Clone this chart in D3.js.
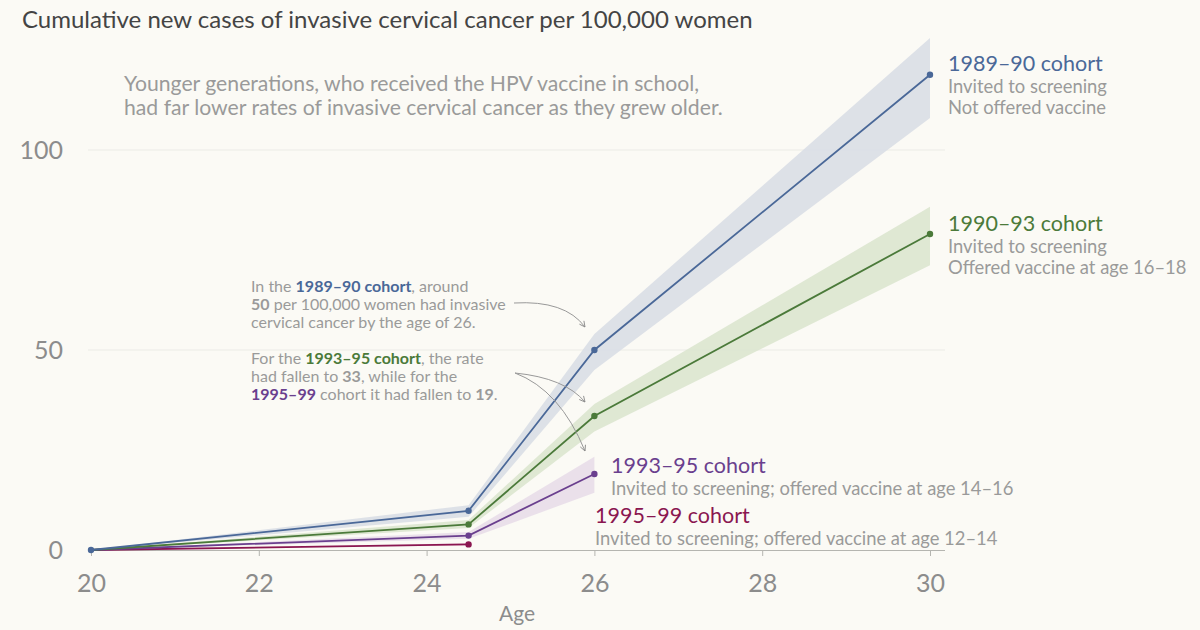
<!DOCTYPE html>
<html><head><meta charset="utf-8">
<script src="https://cdn.jsdelivr.net/npm/d3@7"></script>
<style>
html,body{margin:0;padding:0;background:#fbfaf5;}
svg{display:block;font-family:Lato,"Open Sans",sans-serif;}
</style></head>
<body><svg id="c" width="1200" height="630"></svg>
<script>
const ages = [20, 24.5, 26, 30];
const xTicks = [20, 22, 24, 26, 28, 30];
const yTicks = [0, 50, 100];
const cohorts = ["1989–90 cohort", "1990–93 cohort", "1993–95 cohort", "1995–99 cohort"];
const colors = ["#4a6898", "#4b7a3a", "#6a3f8e", "#8a1650"];
const bandColors = ["#d9dee6", "#dbe5cf", "#e8dde9", "#efdbe3"];
const val8990 = [0, 9.8, 50, 118.8];
const lo8990 = [0, 8.3, 45, 108];
const hi8990 = [0, 11.2, 54, 128];
const val9093 = [0, 6.4, 33.5, 79];
const lo9093 = [0, 5.5, 29.6, 71.2];
const hi9093 = [0, 7.5, 36.5, 85.8];
const val9395 = [0, 3.6, 19];
const lo9395 = [0, 2.8, 14.3];
const hi9395 = [0, 4.5, 23.3];
const val9599 = [0, 1.4];
const lo9599 = [0, 1.1];
const hi9599 = [0, 1.7];
const labelSub = [
  ["Invited to screening", "Not offered vaccine"],
  ["Invited to screening", "Offered vaccine at age 16–18"],
  ["Invited to screening; offered vaccine at age 14–16"],
  ["Invited to screening; offered vaccine at age 12–14"]
];

const series = [
  {v: val8990, lo: lo8990, hi: hi8990},
  {v: val9093, lo: lo9093, hi: hi9093},
  {v: val9395, lo: lo9395, hi: hi9395},
  {v: val9599, lo: lo9599, hi: hi9599}
];

const svg = d3.select("#c");
const x = d3.scaleLinear().domain([20, 30]).range([91, 930]);
const y = d3.scaleLinear().domain([0, 100]).range([550, 150]);

// title
svg.append("text").attr("x", 22).attr("y", 28).attr("fill", "#444")
  .style("font-size", "24px").text("Cumulative new cases of invasive cervical cancer per 100,000 women");
const sub = svg.append("text").attr("fill", "#9a9a9a").style("font-size", "21.2px");
sub.append("tspan").attr("x", 124).attr("y", 91).text("Younger generations, who received the HPV vaccine in school,");
sub.append("tspan").attr("x", 124).attr("y", 115).text("had far lower rates of invasive cervical cancer as they grew older.");

// grid
svg.append("g").selectAll("line").data(yTicks.filter(d => d > 0)).join("line")
  .attr("x1", 88).attr("x2", 945).attr("y1", d => y(d)).attr("y2", d => y(d))
  .attr("stroke", "#ebebe6").attr("stroke-width", 1);

// x axis
const xAxis = d3.axisBottom(x).tickValues(xTicks).tickSize(6).tickPadding(0).tickFormat(d3.format("d"));
const gx = svg.append("g").attr("transform", "translate(0,550)").call(xAxis);
gx.select(".domain").attr("d", "M88,0.5H945").attr("stroke", "#b5b5b0");
gx.selectAll(".tick line").attr("stroke", "#b5b5b0");
gx.selectAll(".tick text").attr("fill", "#8c8c8c").style("font-size", "25px").style("font-family", "Lato")
  .attr("y", 33).attr("dy", "0.35em");
svg.append("text").attr("x", 517).attr("y", 614).attr("dy", "0.35em").attr("text-anchor", "middle").attr("fill", "#8c8c8c")
  .style("font-size", "21px").text("Age");

// y axis labels
const yAxis = d3.axisLeft(y).tickValues(yTicks).tickSize(0).tickPadding(0);
const gy = svg.append("g").attr("transform", "translate(63,0)").call(yAxis);
gy.select(".domain").remove();
gy.selectAll(".tick text").attr("fill", "#8c8c8c").style("font-size", "25px").style("font-family", "Lato");

// bands
const area = d3.area().x((d, i) => x(ages[i])).y0(d => y(d[0])).y1(d => y(d[1]));
series.forEach((s, k) => {
  const pts = s.lo.map((l, i) => [l, s.hi[i]]);
  svg.append("path").datum(pts).attr("d", area).attr("fill", bandColors[k]).attr("opacity", 0.9);
});

// lines & dots
const line = d3.line().x((d, i) => x(ages[i])).y(d => y(d));
for (let k = series.length - 1; k >= 0; k--) {
  const s = series[k];
  svg.append("path").datum(s.v).attr("d", line).attr("fill", "none")
    .attr("stroke", colors[k]).attr("stroke-width", 1.8);
  svg.append("g").selectAll("circle").data(s.v.slice(1)).join("circle")
    .attr("cx", (d, i) => x(ages[i + 1])).attr("cy", d => y(d)).attr("r", 3.2).attr("fill", colors[k]);
}
svg.append("circle").attr("cx", x(20)).attr("cy", y(0)).attr("r", 3.2).attr("fill", colors[0]);

// right labels
const labelPos = [
  {x: 948, y: 71}, {x: 948, y: 231}, {x: 611, y: 473}, {x: 595, y: 523}
];
cohorts.forEach((c, k) => {
  const p = labelPos[k];
  svg.append("text").attr("x", p.x).attr("y", p.y).attr("fill", colors[k])
    .style("font-size", "21.5px").text(c);
  labelSub[k].forEach((t, j) => {
    svg.append("text").attr("x", p.x).attr("y", p.y + 21.5 * (j + 1)).attr("fill", "#9a9a9a")
      .style("font-size", "18.4px").text(t);
  });
});

// annotations
const ann1 = svg.append("text").attr("fill", "#9a9a9a").style("font-size", "16px");
let l = ann1.append("tspan").attr("x", 251).attr("y", 292);
l.append("tspan").text("In the ");
l.append("tspan").attr("fill", colors[0]).attr("font-weight", "bold").text("1989–90 cohort");
l.append("tspan").text(", around");
l = ann1.append("tspan").attr("x", 251).attr("y", 310);
l.append("tspan").attr("font-weight", "bold").text("50");
l.append("tspan").text(" per 100,000 women had invasive");
ann1.append("tspan").attr("x", 251).attr("y", 328).text("cervical cancer by the age of 26.");

const ann2 = svg.append("text").attr("fill", "#9a9a9a").style("font-size", "16px");
l = ann2.append("tspan").attr("x", 251).attr("y", 364);
l.append("tspan").text("For the ");
l.append("tspan").attr("fill", colors[1]).attr("font-weight", "bold").text("1993–95 cohort");
l.append("tspan").text(", the rate");
l = ann2.append("tspan").attr("x", 251).attr("y", 382);
l.append("tspan").text("had fallen to ");
l.append("tspan").attr("font-weight", "bold").text("33");
l.append("tspan").text(", while for the");
l = ann2.append("tspan").attr("x", 251).attr("y", 400);
l.append("tspan").attr("fill", colors[2]).attr("font-weight", "bold").text("1995–99");
l.append("tspan").text(" cohort it had fallen to ");
l.append("tspan").attr("font-weight", "bold").text("19");
l.append("tspan").text(".");

// arrows
const defs = svg.append("defs");
defs.append("marker").attr("id", "ah").attr("viewBox", "0 0 10 10").attr("refX", 9).attr("refY", 5)
  .attr("markerWidth", 7).attr("markerHeight", 7).attr("orient", "auto-start-reverse")
  .append("path").attr("d", "M1,1 L9,5 L1,9").attr("fill", "none").attr("stroke", "#888").attr("stroke-width", 1.2);
const arrows = [
  "M514,303 Q565,300 585,327",
  "M515,373 Q565,378 585,402",
  "M515,373 Q560,390 585,451"
];
svg.append("g").selectAll("path").data(arrows).join("path").attr("d", d => d)
  .attr("fill", "none").attr("stroke", "#999").attr("stroke-width", 1).attr("marker-end", "url(#ah)");
</script></body></html>
